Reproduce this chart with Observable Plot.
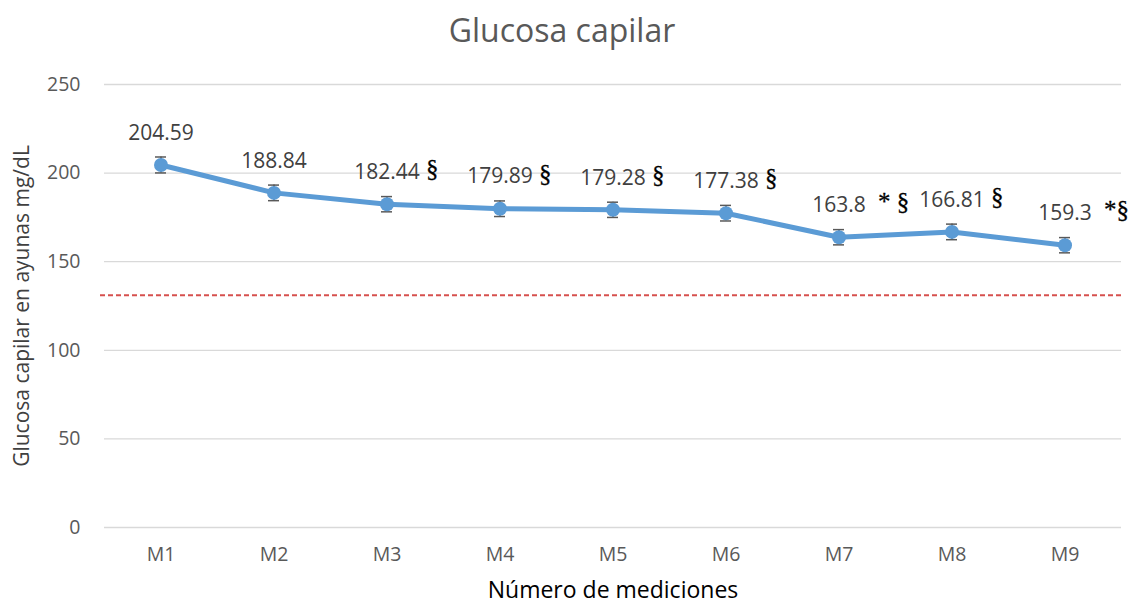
<!DOCTYPE html>
<html>
<head>
<meta charset="utf-8">
<script src="https://cdn.jsdelivr.net/npm/d3@7"></script>
<script src="https://cdn.jsdelivr.net/npm/@observablehq/plot@0.6"></script>
<style>
  body { margin: 0; background: #fff; font-family: "Open Sans", sans-serif; }
  #wrap { width: 1142px; height: 607px; position: relative; }
  #title { position: absolute; left: 0; top: 8px; width: 1124px; text-align: center;
           font-size: 32px; color: #595959; line-height: 44px; }
  #chart { position: absolute; left: 0; top: 60px; }
</style>
</head>
<body>
<div id="wrap">
  <div id="title">Glucosa capilar</div>
  <div id="chart"></div>
</div>
<script>
const categories = ["M1","M2","M3","M4","M5","M6","M7","M8","M9"];
const values = [204.59, 188.84, 182.44, 179.89, 179.28, 177.38, 163.8, 166.81, 159.3];
const errors = [4.5, 4.4, 4.3, 4.4, 4.3, 4.4, 4.3, 4.4, 4.3];
const symbols = ["", "", "§", "§", "§", "§", "* §", "§", "*§"];
const referenceLine = 131;
const yTicks = [0, 50, 100, 150, 200, 250];

const data = categories.map((c, i) => ({
  cat: c, v: values[i], lo: values[i] - errors[i], hi: values[i] + errors[i],
  label: String(values[i]), sym: symbols[i]
}));

const chart = Plot.plot({
  width: 1142,
  height: 547,
  marginLeft: 104,
  marginRight: 21,
  marginTop: 24,
  marginBottom: 80,
  style: { fontFamily: "Open Sans, sans-serif", fontSize: "19px", color: "#595959", background: "#fff", overflow: "visible" },
  x: { domain: categories, padding: 0, label: null },
  y: { domain: [0, 250], ticks: yTicks, label: null },
  marks: [
    Plot.gridY(yTicks, { stroke: "#d9d9d9", strokeOpacity: 1, strokeWidth: 1.3 }),
    Plot.ruleY([referenceLine], { stroke: "#d6504e", strokeWidth: 2, strokeDasharray: "5,3", insetLeft: -4 }),
    Plot.axisY({ ticks: yTicks, tickSize: 0, tickPadding: 24, fontSize: 19.5, fill: "#595959", label: null }),
    Plot.axisX({ tickSize: 0, tickPadding: 20, fontSize: 19.5, fill: "#595959", label: null }),
    Plot.text(["Glucosa capilar en ayunas mg/dL"], { frameAnchor: "left", textAnchor: "middle", rotate: -90, dx: -82, fontSize: 21, fill: "#404040" }),
    Plot.text(["Número de mediciones"], { frameAnchor: "bottom", dy: 70, fontSize: 23, fill: "#000" }),
    Plot.line(data, { x: "cat", y: "v", stroke: "#5b9bd5", strokeWidth: 5, strokeLinejoin: "round" }),
    Plot.ruleX(data, { x: "cat", y1: "lo", y2: "hi", stroke: "#595959", strokeWidth: 1.5 }),
    Plot.tickY(data, { x: "cat", y: "lo", stroke: "#595959", strokeWidth: 1.5, inset: 51 }),
    Plot.tickY(data, { x: "cat", y: "hi", stroke: "#595959", strokeWidth: 1.5, inset: 51 }),
    Plot.dot(data, { x: "cat", y: "v", r: 7, fill: "#5b9bd5", stroke: "none" }),
    Plot.text(data, { x: "cat", y: "v", text: "label", dy: -32, fontSize: 21, fill: "#404040" }),
    Plot.text(data, { x: "cat", y: "v", text: "sym", dy: -35, dx: 39, textAnchor: "start", fontSize: 25, fill: "#000",
      fontFamily: "Liberation Serif, serif", stroke: "#000", strokeWidth: 0.3 })
  ]
});
document.getElementById("chart").appendChild(chart);
</script>
</body>
</html>
